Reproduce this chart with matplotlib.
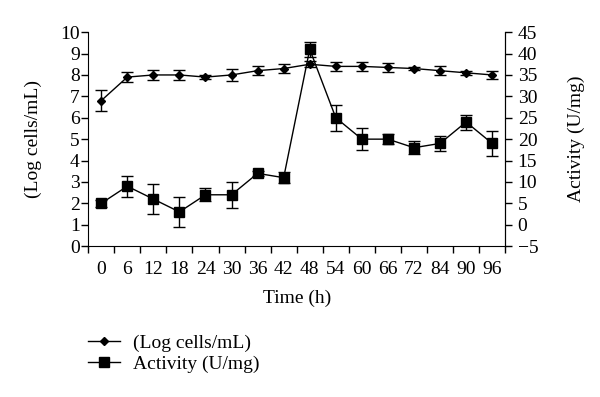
import matplotlib
matplotlib.use("Agg")
import matplotlib.pyplot as plt
from matplotlib.lines import Line2D
import numpy as np

times = ["0", "6", "12", "18", "24", "30", "36", "42", "48", "54", "60", "66", "72", "84", "90", "96"]
log_cells = [6.8, 7.9, 8.0, 8.0, 7.9, 8.0, 8.2, 8.3, 8.5, 8.4, 8.4, 8.35, 8.3, 8.2, 8.1, 8.0]
log_cells_err = [0.5, 0.25, 0.25, 0.25, 0.1, 0.3, 0.2, 0.2, 0.15, 0.2, 0.2, 0.2, 0.05, 0.2, 0.1, 0.2]
activity = [5, 9, 6, 3, 7, 7, 12, 11, 41, 25, 20, 20, 18, 19, 24, 19]
activity_err = [0.75, 2.5, 3.5, 3.5, 1.5, 3, 0.5, 1.25, 1.75, 3, 2.5, 1.25, 1.5, 1.75, 1.75, 3]

plt.rcParams['font.family'] = ['Liberation Serif', 'DejaVu Serif']
plt.rcParams['font.size'] = 14

fig = plt.figure(figsize=(6, 3.97), dpi=100)
ax = fig.add_axes([0.147, 0.38, 0.695, 0.539])
ax2 = ax.twinx()

x = np.arange(len(times))
ax.errorbar(x, log_cells, yerr=log_cells_err, color='black', marker='D', markersize=4.5,
            lw=1, capsize=4, elinewidth=1, capthick=1)
ax2.errorbar(x, activity, yerr=activity_err, color='black', marker='s', markersize=6.5,
             lw=1, capsize=4, elinewidth=1, capthick=1)

ax.set_ylim(0, 10)
ax.set_yticks(range(0, 11))
ax2.set_ylim(-5, 45)
ax2.set_yticks(range(-5, 46, 5))
ax2.set_yticklabels([("\u2212" + str(-v)) if v < 0 else str(v) for v in range(-5, 46, 5)])

ax.set_xlim(-0.5, len(times) - 0.5)
ax.set_xticks(np.arange(-0.5, len(times), 1.0))
ax.set_xticklabels([])
ax.set_xticks(x, minor=True)
ax.set_xticklabels(times, minor=True)
ax.tick_params(axis='x', which='major', direction='out', length=5, width=1)
ax.tick_params(axis='x', which='minor', length=0, pad=11)
ax.tick_params(axis='y', direction='out', length=5, width=1, pad=1)
ax2.tick_params(axis='y', direction='out', length=5, width=1, pad=4)

for a in (ax, ax2):
    a.spines['top'].set_visible(False)
ax2.spines['left'].set_visible(False)
ax2.spines['bottom'].set_visible(False)

ax.set_ylabel('(Log cells/mL)', labelpad=13)
ax2.set_ylabel('Activity (U/mg)', labelpad=21)
ax.set_xlabel('Time (h)', labelpad=8)

h1 = Line2D([], [], color='black', marker='D', markersize=4.5, lw=1)
h2 = Line2D([], [], color='black', marker='s', markersize=6.5, lw=1)
fig.legend(handles=[h1, h2], labels=['(Log cells/mL)', 'Activity (U/mg)'], loc='upper left',
           bbox_to_anchor=(0.147, 0.157), frameon=False, handlelength=1.65, borderpad=0,
           borderaxespad=0, labelspacing=0.17, handletextpad=0.67)

fig.savefig('out.png', dpi=100)
